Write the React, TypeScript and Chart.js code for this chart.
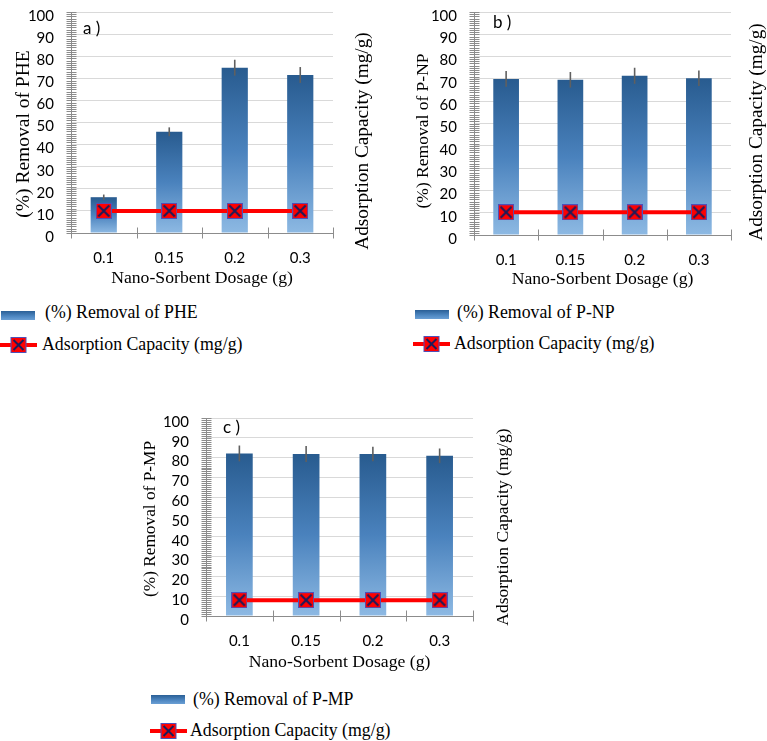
import React, { useEffect, useRef } from 'react';
import { Chart, registerables } from 'chart.js';

Chart.register(...registerables);

// ---------------- data ----------------
const categories = ['0.1', '0.15', '0.2', '0.3'];
const yMin = 0;
const yMax = 100;
const yStep = 10;
const yMinorStep = 1;

const removalPHE = [16.2, 45.8, 74.8, 71.5];
const errorPHE = [1.2, 2.0, 3.6, 3.6];
const capacityPHE = [10, 10, 10, 10];

const removalPNP = [70.0, 69.6, 71.4, 70.3];
const errorPNP = [3.5, 3.5, 3.6, 3.5];
const capacityPNP = [10.2, 10.2, 10.2, 10.2];

const removalPMP = [82.1, 81.8, 81.8, 80.9];
const errorPMP = [4.0, 4.0, 3.7, 3.7];
const capacityPMP = [8.0, 8.0, 8.0, 8.0];

const xTitle = 'Nano-Sorbent Dosage (g)';
const capacityTitle = 'Adsorption Capacity (mg/g)';

// ---------------- styles ----------------
const SERIF = '"Liberation Serif", "Times New Roman", serif';
const SANS = 'Lato, "Open Sans", sans-serif';
const AXIS_GRAY = '#8c8c8c';
const GRID_GRAY = '#d9d9d9';

type Pt = [number, number];
type PanelSpec = {
  key: string;
  canvas: { x: number; y: number; w: number; h: number };
  area: { l: number; r: number; t: number; b: number };
  label: string;
  labelPos: Pt;
  yTitle: string;
  yTitlePos: Pt;
  yTitleSize: number;
  rTitlePos: Pt;
  rTitleSize: number;
  removal: number[];
  errors: number[];
  capacity: number[];
  legendName: string;
  legend: { swatch: { x: number; y: number; w: number; h: number }; text1: Pt; line: Pt; text2: Pt };
};

const panels: PanelSpec[] = [
  {
    key: 'a',
    canvas: { x: 0, y: 0, w: 380, h: 292 },
    area: { l: 71, r: 333, t: 3, b: 233 },
    label: 'a )',
    labelPos: [83, 29],
    yTitle: '(%) Removal of PHE',
    yTitlePos: [24, 134],
    yTitleSize: 19.5,
    rTitlePos: [363, 141],
    rTitleSize: 19.3,
    removal: removalPHE,
    errors: errorPHE,
    capacity: capacityPHE,
    legendName: '(%) Removal of PHE',
    legend: { swatch: { x: 1, y: 311, w: 34, h: 9 }, text1: [45, 313], line: [0, 345], text2: [42, 345] },
  },
  {
    key: 'b',
    canvas: { x: 380, y: 0, w: 387, h: 293 },
    area: { l: 94, r: 351, t: 12, b: 235 },
    label: 'b )',
    labelPos: [113, 23],
    yTitle: '(%) Removal of P-NP',
    yTitlePos: [43, 131],
    yTitleSize: 17.5,
    rTitlePos: [377, 132],
    rTitleSize: 19.3,
    removal: removalPNP,
    errors: errorPNP,
    capacity: capacityPNP,
    legendName: '(%) Removal of P-NP',
    legend: { swatch: { x: 415, y: 310, w: 34, h: 9 }, text1: [457, 313], line: [413, 344], text2: [454, 344] },
  },
  {
    key: 'c',
    canvas: { x: 130, y: 390, w: 400, h: 286 },
    area: { l: 76, r: 343, t: 28, b: 226 },
    label: 'c )',
    labelPos: [93, 38],
    yTitle: '(%) Removal of P-MP',
    yTitlePos: [20, 129],
    yTitleSize: 17.3,
    rTitlePos: [373, 137],
    rTitleSize: 17.5,
    removal: removalPMP,
    errors: errorPMP,
    capacity: capacityPMP,
    legendName: '(%) Removal of P-MP',
    legend: { swatch: { x: 151, y: 695, w: 34, h: 9 }, text1: [193, 700], line: [150, 731], text2: [190, 731] },
  },
];

function makeMarker(size: number): HTMLCanvasElement {
  const c = document.createElement('canvas');
  c.width = size;
  c.height = size;
  const g = c.getContext('2d')!;
  g.fillStyle = '#ff0000';
  g.fillRect(0, 0, size, size);
  g.strokeStyle = '#5050b8';
  g.lineWidth = 1;
  g.strokeRect(0.5, 0.5, size - 1, size - 1);
  g.strokeStyle = '#1b1b5a';
  g.lineWidth = 2;
  g.beginPath();
  g.moveTo(2.5, 2.5);
  g.lineTo(size - 2.5, size - 2.5);
  g.moveTo(size - 2.5, 2.5);
  g.lineTo(2.5, size - 2.5);
  g.stroke();
  return c;
}

const decorPlugin = {
  id: 'panelDecor',
  afterDatasetsDraw(chart: any, _args: any, opts: any) {
    const ctx = chart.ctx;
    const ys = chart.scales.y;
    const meta = chart.getDatasetMeta(0);
    const vals: number[] = chart.data.datasets[0].data;
    const errs: number[] = opts.errors || [];
    ctx.save();
    ctx.strokeStyle = '#606060';
    ctx.lineWidth = 1.6;
    meta.data.forEach((el: any, i: number) => {
      const e = errs[i];
      if (!e) return;
      const x = el.x;
      ctx.beginPath();
      ctx.moveTo(x, ys.getPixelForValue(vals[i] + e));
      ctx.lineTo(x, ys.getPixelForValue(vals[i] - e));
      ctx.stroke();
    });
    ctx.restore();
  },
  afterDraw(chart: any, _args: any, opts: any) {
    const ctx = chart.ctx;
    const ys = chart.scales.y;
    const xs = chart.scales.x;
    const area = chart.chartArea;
    ctx.save();
    ctx.strokeStyle = AXIS_GRAY;
    ctx.lineWidth = 1;
    ctx.beginPath();
    // y axis minor/major tick marks crossing the axis
    const ax = Math.round(area.left) + 0.5;
    for (let v = ys.min; v <= ys.max + 1e-9; v += yMinorStep) {
      const y = Math.round(ys.getPixelForValue(v)) + 0.5;
      ctx.moveTo(ax - 5, y);
      ctx.lineTo(ax + 5, y);
    }
    // x axis tick marks at category boundaries
    const ay = Math.round(area.bottom) + 0.5;
    for (let i = 0; i <= categories.length; i++) {
      const x = Math.round(xs.getPixelForValue(i - 0.5)) + 0.5;
      ctx.moveTo(x, ay - 6);
      ctx.lineTo(x, ay + 5);
    }
    ctx.stroke();

    ctx.fillStyle = '#000';
    ctx.textAlign = 'center';
    ctx.textBaseline = 'middle';
    const drawRot = (text: string, p: number[], size: number) => {
      ctx.save();
      ctx.translate(p[0], p[1]);
      ctx.rotate(-Math.PI / 2);
      ctx.font = `${size}px ${SERIF}`;
      ctx.fillText(text, 0, 0);
      ctx.restore();
    };
    drawRot(opts.yTitle, opts.yTitlePos, opts.yTitleSize);
    drawRot(opts.rTitle, opts.rTitlePos, opts.rTitleSize);

    ctx.textAlign = 'left';
    ctx.font = `17px ${SANS}`;
    ctx.fillText(opts.label, opts.labelPos[0], opts.labelPos[1]);
    ctx.restore();
  },
};

function Panel({ spec }: { spec: PanelSpec }) {
  const ref = useRef<HTMLCanvasElement | null>(null);

  useEffect(() => {
    const canvas = ref.current;
    if (!canvas) return;
    const { w, h } = spec.canvas;
    const { l, r, t, b } = spec.area;
    const marker = makeMarker(16);

    const chart = new Chart(canvas, {
      type: 'bar',
      data: {
        labels: categories,
        datasets: [
          {
            type: 'bar',
            label: spec.legendName,
            data: spec.removal,
            yAxisID: 'y',
            order: 1,
            barPercentage: 0.4,
            categoryPercentage: 1,
            borderWidth: 0,
            backgroundColor: (c: any) => {
              const ch = c.chart;
              if (!ch.chartArea || c.raw == null) return '#3a74b0';
              const sy = ch.scales.y;
              const top = sy.getPixelForValue(c.raw);
              const bottom = sy.getPixelForValue(0);
              const g = ch.ctx.createLinearGradient(0, top, 0, bottom);
              g.addColorStop(0, '#285b8f');
              g.addColorStop(0.5, '#4a82bd');
              g.addColorStop(1, '#8db9e3');
              return g;
            },
          } as any,
          {
            type: 'line',
            label: capacityTitle,
            data: spec.capacity,
            yAxisID: 'y1',
            order: 0,
            borderColor: '#ff0000',
            borderWidth: 4,
            pointStyle: marker,
            pointRadius: 8,
            pointHoverRadius: 8,
            tension: 0,
            fill: false,
          } as any,
        ],
      },
      options: {
        responsive: false,
        animation: false,
        devicePixelRatio: 1,
        layout: { padding: { left: 0, top: t, right: w - r, bottom: 0 } },
        plugins: {
          legend: { display: false },
          tooltip: { enabled: false },
          panelDecor: {
            errors: spec.errors,
            yTitle: spec.yTitle,
            yTitlePos: spec.yTitlePos,
            yTitleSize: spec.yTitleSize,
            rTitle: capacityTitle,
            rTitlePos: spec.rTitlePos,
            rTitleSize: spec.rTitleSize,
            label: spec.label,
            labelPos: spec.labelPos,
          },
        } as any,
        scales: {
          x: {
            type: 'category',
            offset: true,
            grid: { display: false },
            border: { display: true, color: AXIS_GRAY, width: 1 },
            ticks: {
              color: '#000',
              font: { family: SANS, size: 15 },
              padding: 8,
              maxRotation: 0,
              autoSkip: false,
            },
            title: {
              display: true,
              text: xTitle,
              color: '#000',
              font: { family: SERIF, size: 17.7 },
              padding: { top: 0, bottom: 3 },
            },
            afterFit: (s: any) => {
              s.height = h - b;
              s.paddingLeft = 0;
              s.paddingRight = 0;
            },
          },
          y: {
            position: 'left',
            min: yMin,
            max: yMax,
            grid: {
              drawTicks: false,
              color: (c: any) => (c.tick && c.tick.value === yMin ? 'rgba(0,0,0,0)' : GRID_GRAY),
              lineWidth: 1,
            },
            border: { display: true, color: AXIS_GRAY, width: 1 },
            ticks: {
              stepSize: yStep,
              autoSkip: false,
              color: '#000',
              font: { family: SANS, size: 15 },
              padding: 17,
              labelOffset: 4,
            },
            afterFit: (s: any) => {
              s.width = l;
              s.paddingTop = 0;
              s.paddingBottom = 0;
            },
          },
          y1: {
            position: 'right',
            display: false,
            min: yMin,
            max: yMax,
          },
        } as any,
      },
      plugins: [decorPlugin as any],
    });
    return () => chart.destroy();
  }, [spec]);

  const { x, y, w, h } = spec.canvas;
  return (
    <canvas
      ref={ref}
      width={w}
      height={h}
      style={{ position: 'absolute', left: x, top: y, width: w, height: h }}
    />
  );
}

function Legend({ spec }: { spec: PanelSpec }) {
  const L = spec.legend;
  const textStyle = (p: Pt): React.CSSProperties => ({
    position: 'absolute',
    left: p[0],
    top: p[1],
    transform: 'translateY(-50%)',
    fontFamily: SERIF,
    fontSize: 17.8,
    lineHeight: 1,
    color: '#000',
    whiteSpace: 'nowrap',
  });
  return (
    <>
      <div
        style={{
          position: 'absolute',
          left: L.swatch.x,
          top: L.swatch.y,
          width: L.swatch.w,
          height: L.swatch.h,
          background: 'linear-gradient(to bottom, #2a5f96, #4f88c2 60%, #6b9fd4)',
        }}
      />
      <div style={textStyle(L.text1)}>{spec.legendName}</div>
      <svg
        width={37}
        height={16}
        style={{ position: 'absolute', left: L.line[0], top: L.line[1] - 8 }}
      >
        <line x1={0} y1={8} x2={37} y2={8} stroke="#ff0000" strokeWidth={4} />
        <rect x={11} y={0.5} width={15} height={15} fill="#ff0000" stroke="#5050b8" strokeWidth={1} />
        <path d="M13.5 3 L23.5 13 M23.5 3 L13.5 13" stroke="#1b1b5a" strokeWidth={2} />
      </svg>
      <div style={textStyle(L.text2)}>{capacityTitle}</div>
    </>
  );
}

export default function App() {
  return (
    <div
      style={{
        position: 'absolute',
        left: 0,
        top: 0,
        width: 767,
        height: 741,
        background: '#fff',
        overflow: 'hidden',
      }}
    >
      {panels.map((p) => (
        <Panel key={p.key} spec={p} />
      ))}
      {panels.map((p) => (
        <Legend key={'lg' + p.key} spec={p} />
      ))}
    </div>
  );
}
